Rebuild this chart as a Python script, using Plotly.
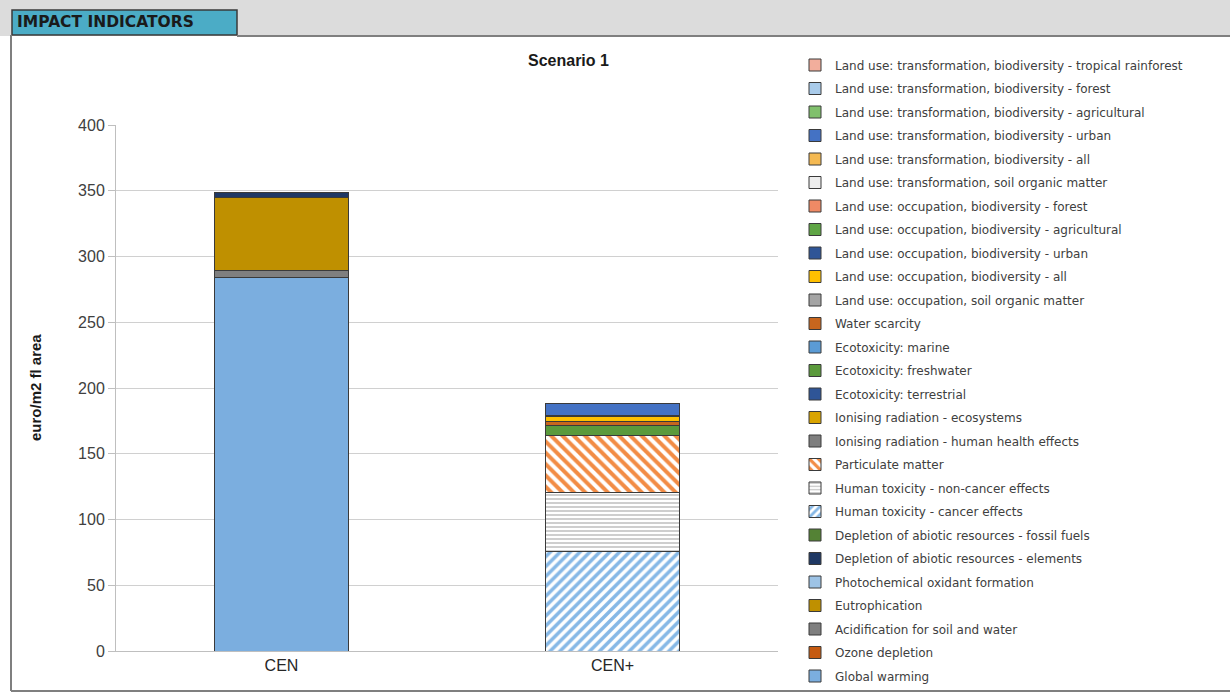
import plotly.graph_objects as go

W, H = 1230, 694

scenarios = ["CEN", "CEN+"]

# Impact categories, stacked from the bottom of each bar upwards
categories = [
    "Global warming",
    "Ozone depletion",
    "Acidification for soil and water",
    "Eutrophication",
    "Photochemical oxidant formation",
    "Depletion of abiotic resources - elements",
    "Depletion of abiotic resources - fossil fuels",
    "Human toxicity - cancer effects",
    "Human toxicity - non-cancer effects",
    "Particulate matter",
    "Ionising radiation - human health effects",
    "Ionising radiation - ecosystems",
    "Ecotoxicity: terrestrial",
    "Ecotoxicity: freshwater",
    "Ecotoxicity: marine",
    "Water scarcity",
    "Land use: occupation, soil organic matter",
    "Land use: occupation, biodiversity - all",
    "Land use: occupation, biodiversity - urban",
    "Land use: occupation, biodiversity - agricultural",
    "Land use: occupation, biodiversity - forest",
    "Land use: transformation, soil organic matter",
    "Land use: transformation, biodiversity - all",
    "Land use: transformation, biodiversity - urban",
    "Land use: transformation, biodiversity - agricultural",
    "Land use: transformation, biodiversity - forest",
    "Land use: transformation, biodiversity - tropical rainforest",
]

# euro/m2 fl area, [CEN, CEN+]
cen_values = [284.2, 0, 5.5, 55.0, 0, 4.1, 0,
              0, 0, 0, 0, 0, 0, 0, 0, 0, 0, 0, 0, 0, 0, 0, 0, 0, 0, 0, 0]
cen_plus_values = [0, 0, 0, 0, 0, 0, 0,
                   76.0, 44.4, 43.3, 0, 0, 0, 7.6, 0, 3.1, 0, 3.6, 0.9, 0, 0, 0, 0, 9.6, 0, 0, 0]

fill_colors = [
    "#7BAEDF", "#C55A11", "#7F7F7F", "#BF9000", "#9DC3E6", "#1F3864", "#548235",
    "#FFFFFF", "#FFFFFF", "#FFFFFF", "#7F7F7F", "#D9A400", "#2F5597", "#5B9A3C",
    "#5B9BD5", "#C8661E", "#A5A5A5", "#FFC000", "#2F5597", "#5FA545", "#F08A65",
    "#EDEDED", "#F4B952", "#4472C4", "#80C06C", "#A9CBEA", "#F2AE9C",
]

patterns = {
    "Human toxicity - cancer effects": dict(shape="/", fgcolor="#86B8E6", bgcolor="#FFFFFF",
                                            fgopacity=1, size=7, solidity=0.5),
    "Human toxicity - non-cancer effects": dict(shape="-", fgcolor="#C2C2C2", bgcolor="#FFFFFF",
                                                fgopacity=1, size=4, solidity=0.4),
    "Particulate matter": dict(shape="\\", fgcolor="#F28C45", bgcolor="#FFFFFF",
                               fgopacity=1, size=8, solidity=0.5),
}

fig = go.Figure()
n = len(categories)
for i, name in enumerate(categories):
    marker = dict(color=fill_colors[i], line=dict(color="#3A3A3A", width=1))
    if name in patterns:
        marker["pattern"] = patterns[name]
    fig.add_trace(go.Bar(
        name=name,
        x=scenarios,
        y=[cen_values[i], cen_plus_values[i]],
        marker=marker,
        legendgroup=name,
        legendrank=n - i,  # top of the stack listed first
    ))

x0, x1 = 116 / W, 778 / W
y0, y1 = 1 - 651 / H, 1 - 125 / H

fig.update_layout(
    width=W, height=H,
    margin=dict(l=0, r=0, t=0, b=0, autoexpand=False),
    paper_bgcolor="#FFFFFF",
    plot_bgcolor="#FFFFFF",
    barmode="stack",
    bargap=0.598,
    showlegend=True,
    legend=dict(
        x=795 / W, y=1 - 50.5 / H, xanchor="left", yanchor="top",
        traceorder="grouped",
        tracegroupgap=4.5,
        font=dict(family="DejaVu Sans", size=12, color="#404040"),
        bgcolor="rgba(0,0,0,0)",
        itemclick=False,
    ),
    xaxis=dict(
        domain=[x0, x1],
        showgrid=False,
        showline=True, linecolor="#BFBFBF", linewidth=1,
        ticks="", tickfont=dict(family="Liberation Sans", size=16, color="#262626"),
        fixedrange=True,
    ),
    yaxis=dict(
        domain=[y0, y1],
        range=[0, 400],
        tickvals=[0, 50, 100, 150, 200, 250, 300, 350, 400],
        showgrid=True, gridcolor="#D0D0D0", gridwidth=1,
        showline=True, linecolor="#BFBFBF", linewidth=1,
        ticks="outside", ticklen=7, tickcolor="#BFBFBF",
        tickfont=dict(family="Liberation Sans", size=16, color="#404040"),
        zeroline=False,
        fixedrange=True,
    ),
)

# Worksheet-style frame: grey header strip, tab and border lines
shapes = [
    dict(type="rect", xref="paper", yref="paper", x0=0, x1=1, y0=1 - 36 / H, y1=1,
         fillcolor="#DCDCDC", line=dict(width=0), layer="below"),
    dict(type="rect", xref="paper", yref="paper", x0=12 / W, x1=237 / W,
         y0=1 - 35 / H, y1=1 - 10 / H,
         fillcolor="#4BACC6", line=dict(color="#3A3A3A", width=1.5), layer="below"),
    dict(type="line", xref="paper", yref="paper", x0=237 / W, x1=1, y0=1 - 36 / H, y1=1 - 36 / H,
         line=dict(color="#7F7F7F", width=2)),
    dict(type="line", xref="paper", yref="paper", x0=11 / W, x1=11 / W, y0=1 - 691 / H, y1=1 - 35 / H,
         line=dict(color="#7F7F7F", width=2)),
    dict(type="line", xref="paper", yref="paper", x0=11 / W, x1=1, y0=1 - 691 / H, y1=1 - 691 / H,
         line=dict(color="#7F7F7F", width=2)),
]
fig.update_layout(shapes=shapes)

annotations = [
    dict(text="<b>IMPACT INDICATORS</b>", xref="paper", yref="paper",
         x=15 / W, y=1 - 22.5 / H, xanchor="left", yanchor="middle", showarrow=False,
         font=dict(family="DejaVu Sans", size=15.5, color="#1A1A1A")),
    dict(text="<b>Scenario 1</b>", xref="paper", yref="paper",
         x=568 / W, y=1 - 61 / H, xanchor="center", yanchor="middle", showarrow=False,
         font=dict(family="Liberation Sans", size=16, color="#1A1A1A")),
    dict(text="<b>euro/m2 fl area</b>", xref="paper", yref="paper",
         x=35 / W, y=1 - 388 / H, xanchor="center", yanchor="middle", showarrow=False,
         textangle=-90,
         font=dict(family="Liberation Sans", size=15, color="#1A1A1A")),
]
fig.update_layout(annotations=annotations)

fig.write_html("out.html")
